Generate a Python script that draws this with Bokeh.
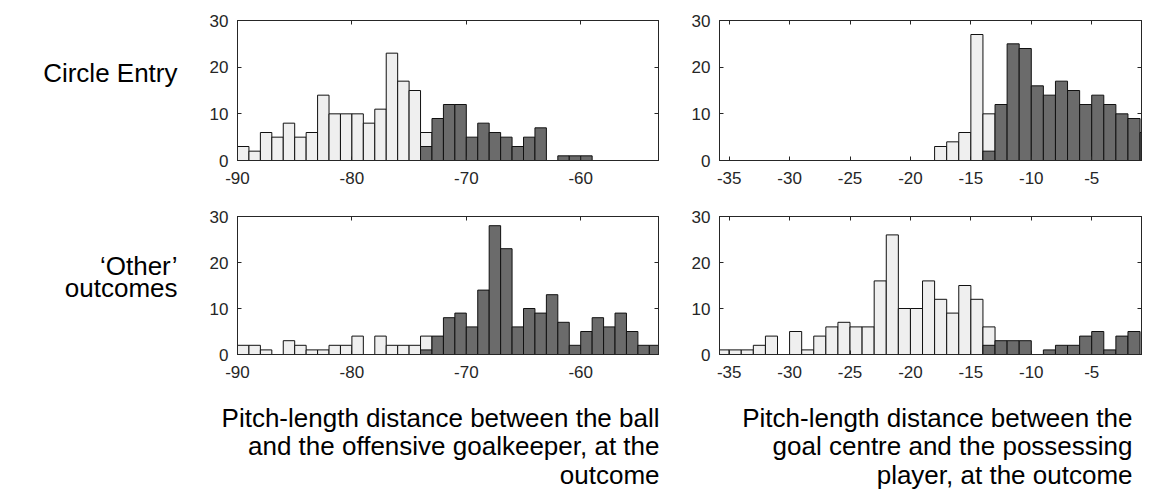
from bokeh.plotting import figure
from bokeh.layouts import column, row
from bokeh.models import Range1d, LinearAxis, FixedTicker, PrintfTickFormatter
from bokeh.core.properties import value
from bokeh.embed import file_html
from bokeh.resources import INLINE

# ---------------- data (counts per 1-unit bin, bin left edges) ----------------
left_xticks = [-90, -80, -70, -60]
right_xticks = [-35, -30, -25, -20, -15, -10, -5]
y_ticks = [0, 10, 20, 30]

row_label_top = ["Circle Entry"]
row_label_bottom = ["\u2018Other\u2019", "outcomes"]
left_title = ["Pitch-length distance between the ball",
              "and the offensive goalkeeper, at the",
              "outcome"]
right_title = ["Pitch-length distance between the",
               "goal centre and the possessing",
               "player, at the outcome"]

# top-left: Circle Entry, ball vs offensive goalkeeper
tl_light_bins = list(range(-90, -73))
tl_light = [3, 2, 6, 5, 8, 5, 6, 14, 10, 10, 10, 8, 11, 23, 17, 15, 6]
tl_dark_bins = list(range(-74, -59))
tl_dark = [3, 9, 12, 12, 5, 8, 6, 5, 3, 5, 7, 0, 1, 1, 1]

# bottom-left: Other outcomes, ball vs offensive goalkeeper
bl_light_bins = list(range(-90, -73))
bl_light = [2, 2, 1, 0, 3, 2, 1, 1, 2, 2, 4, 0, 4, 2, 2, 2, 4]
bl_dark_bins = list(range(-74, -53))
bl_dark = [1, 4, 8, 9, 6, 14, 28, 23, 6, 10, 9, 13, 7, 2, 5, 8, 6, 9, 5, 2, 2]

# top-right: Circle Entry, goal centre vs possessing player
tr_light_bins = list(range(-36, -13))
tr_light = [0, 0, 0, 0, 0, 0, 0, 0, 0, 0, 0, 0, 0, 0, 0, 0, 0, 0, 3, 4, 6, 27, 10]
tr_dark_bins = list(range(-14, 0))
tr_dark = [2, 12, 25, 24, 16, 14, 17, 15, 12, 14, 12, 10, 9, 6]

# bottom-right: Other outcomes, goal centre vs possessing player
br_light_bins = list(range(-36, -13))
br_light = [1, 1, 1, 2, 4, 0, 5, 1, 4, 6, 7, 6, 6, 16, 26, 10, 10, 16, 12, 9, 15, 12, 6]
br_dark_bins = list(range(-14, 0))
br_dark = [2, 3, 3, 3, 0, 1, 2, 2, 4, 5, 1, 4, 5, 0]

left_xlim = (-90, -53.2)
right_xlim = (-35.8, -0.88)
bin_width = 1

# ---------------- style ----------------
FONT = "Liberation Sans"
AX = "#262626"
LIGHT = "#efefef"
DARK = "#6b6b6b"
EDGE = "#111111"


def style_axis(ax, ticks, standoff, show_labels=True):
    ax.ticker = FixedTicker(ticks=ticks)
    ax.formatter = PrintfTickFormatter(format="%d")
    ax.major_tick_in = 4
    ax.major_tick_out = 0
    ax.minor_tick_in = 0
    ax.minor_tick_out = 0
    ax.axis_line_color = AX
    ax.major_tick_line_color = AX
    ax.major_label_text_color = AX
    ax.major_label_text_font = FONT
    if show_labels:
        ax.major_label_text_font_size = "17px"
        ax.major_label_standoff = standoff
    else:
        ax.major_label_overrides = {t: "" for t in ticks}
        ax.major_label_text_font_size = "1px"
        ax.major_label_standoff = 0


def panel(xlim, xticks, lb, lc, db, dc, fw, fh, bl, br, bt, bb):
    p = figure(x_range=Range1d(*xlim), y_range=Range1d(0, 30),
               frame_width=fw, frame_height=fh,
               min_border_left=bl, min_border_right=br,
               min_border_top=bt, min_border_bottom=bb,
               output_backend="svg", toolbar_location=None)
    p.quad(left=lb, right=[b + bin_width for b in lb], bottom=0, top=lc,
           fill_color=LIGHT, line_color=EDGE, line_width=1)
    p.quad(left=db, right=[b + bin_width for b in db], bottom=0, top=dc,
           fill_color=DARK, line_color=EDGE, line_width=1)
    p.xgrid.visible = False
    p.ygrid.visible = False
    style_axis(p.xaxis[0], xticks, 11)
    style_axis(p.yaxis[0], y_ticks, 9)
    ra = LinearAxis()
    style_axis(ra, y_ticks, 0, show_labels=False)
    p.add_layout(ra, "right")
    ta = LinearAxis()
    style_axis(ta, xticks, 0, show_labels=False)
    p.add_layout(ta, "above")
    p.outline_line_color = AX
    p.background_fill_color = "white"
    p.border_fill_color = "white"
    return p


def text_fig(w, h, xs, ys, texts):
    f = figure(width=w, height=h, x_range=Range1d(0, w), y_range=Range1d(0, h),
               min_border=0, output_backend="svg", toolbar_location=None)
    f.axis.visible = False
    f.grid.visible = False
    f.outline_line_color = None
    f.background_fill_color = "white"
    f.border_fill_color = "white"
    f.text(x=xs, y=ys, text=texts, text_align="right", text_baseline="alphabetic",
           text_font=value(FONT), text_font_size=value("26px"), text_color="black")
    return f


tl = panel(left_xlim, left_xticks, tl_light_bins, tl_light, tl_dark_bins, tl_dark,
           421, 140, 47, 10, 20, 36)
tr = panel(right_xlim, right_xticks, tr_light_bins, tr_light, tr_dark_bins, tr_dark,
           422, 140, 51, 8, 20, 36)
bl = panel(left_xlim, left_xticks, bl_light_bins, bl_light, bl_dark_bins, bl_dark,
           421, 138, 47, 10, 20, 30)
br = panel(right_xlim, right_xticks, br_light_bins, br_light, br_dark_bins, br_dark,
           422, 138, 51, 8, 20, 30)

lab_top = text_fig(190, 196, [177], [123], row_label_top)
lab_bot = text_fig(190, 188, [177, 177], [121, 91], row_label_bottom)
spacer = text_fig(190, 105, [], [], [])
title_l = text_fig(478, 105, [469, 469, 469], [72, 44, 15], left_title)
title_r = text_fig(481, 105, [464, 464, 464], [72, 44, 15], right_title)

layout = column(row(lab_top, tl, tr), row(lab_bot, bl, br), row(spacer, title_l, title_r))
open("out.html", "w").write(file_html(layout, INLINE))
